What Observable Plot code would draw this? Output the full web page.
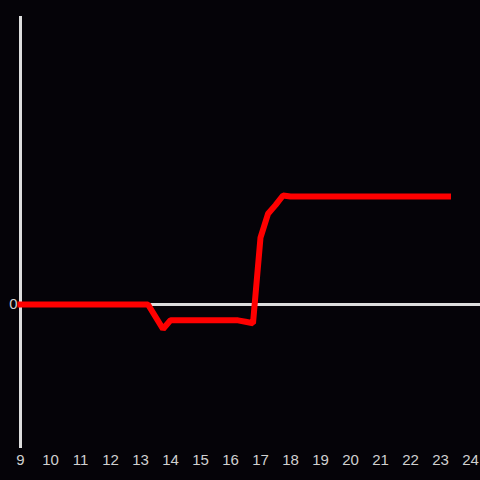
<!DOCTYPE html>
<html>
<head>
<meta charset="utf-8">
<script src="https://cdn.jsdelivr.net/npm/d3@7"></script>
<script src="https://cdn.jsdelivr.net/npm/@observablehq/plot@0.6"></script>
<style>
  html, body { margin: 0; padding: 0; background: #050308; }
  #chart { width: 480px; height: 480px; }
</style>
</head>
<body>
<div id="chart"></div>
<script>
// Hours (every quarter hour) and values
const hours = [
  9, 9.25, 9.5, 9.75, 10, 10.25, 10.5, 10.75, 11, 11.25, 11.5, 11.75,
  12, 12.25, 12.5, 12.75, 13, 13.25, 13.5, 13.75, 14, 14.25, 14.5, 14.75,
  15, 15.25, 15.5, 15.75, 16, 16.25, 16.5, 16.75, 17, 17.25, 17.5, 17.75,
  18, 18.25, 18.5, 18.75, 19, 19.25, 19.5, 19.75, 20, 20.25, 20.5, 20.75,
  21, 21.25, 21.5, 21.75, 22, 22.25, 22.5, 22.75, 23, 23.25
];
const values = [
  0, 0, 0, 0, 0, 0, 0, 0, 0, 0, 0, 0,
  0, 0, 0, 0, 0, 0, -0.085, -0.17, -0.11, -0.11, -0.11, -0.11,
  -0.11, -0.11, -0.11, -0.11, -0.11, -0.11, -0.12, -0.13, 0.465, 0.63, 0.69, 0.757,
  0.75, 0.75, 0.75, 0.75, 0.75, 0.75, 0.75, 0.75, 0.75, 0.75, 0.75, 0.75,
  0.75, 0.75, 0.75, 0.75, 0.75, 0.75, 0.75, 0.75, 0.75, 0.75
];
const xTicks = [9, 10, 11, 12, 13, 14, 15, 16, 17, 18, 19, 20, 21, 22, 23, 24];
const yTicks = [0];

const data = hours.map((h, i) => ({hour: h, value: values[i]}));

const chart = Plot.plot({
  width: 480,
  height: 480,
  marginLeft: 20,
  marginRight: 0,
  marginTop: 16,
  marginBottom: 32,
  style: {background: "#050308", color: "#d0d0d0", fontFamily: "Liberation Sans, Arial, sans-serif", fontSize: "15px"},
  x: {domain: [9, 24.333], ticks: xTicks, tickSize: 0, tickPadding: 6, tickFormat: d => String(d), label: null},
  y: {domain: [-1, 2], ticks: yTicks, tickSize: 0, tickPadding: 3, tickFormat: d => String(d), label: null},
  marks: [
    Plot.ruleY([0], {stroke: "#dddddd", strokeWidth: 3}),
    Plot.ruleX([9], {stroke: "#dddddd", strokeWidth: 3}),
    Plot.line(data, {x: "hour", y: "value", stroke: "#ff0000", strokeWidth: 6, strokeLinejoin: "miter", strokeLinecap: "square", curve: "linear"})
  ]
});
document.getElementById("chart").appendChild(chart);
</script>
</body>
</html>
